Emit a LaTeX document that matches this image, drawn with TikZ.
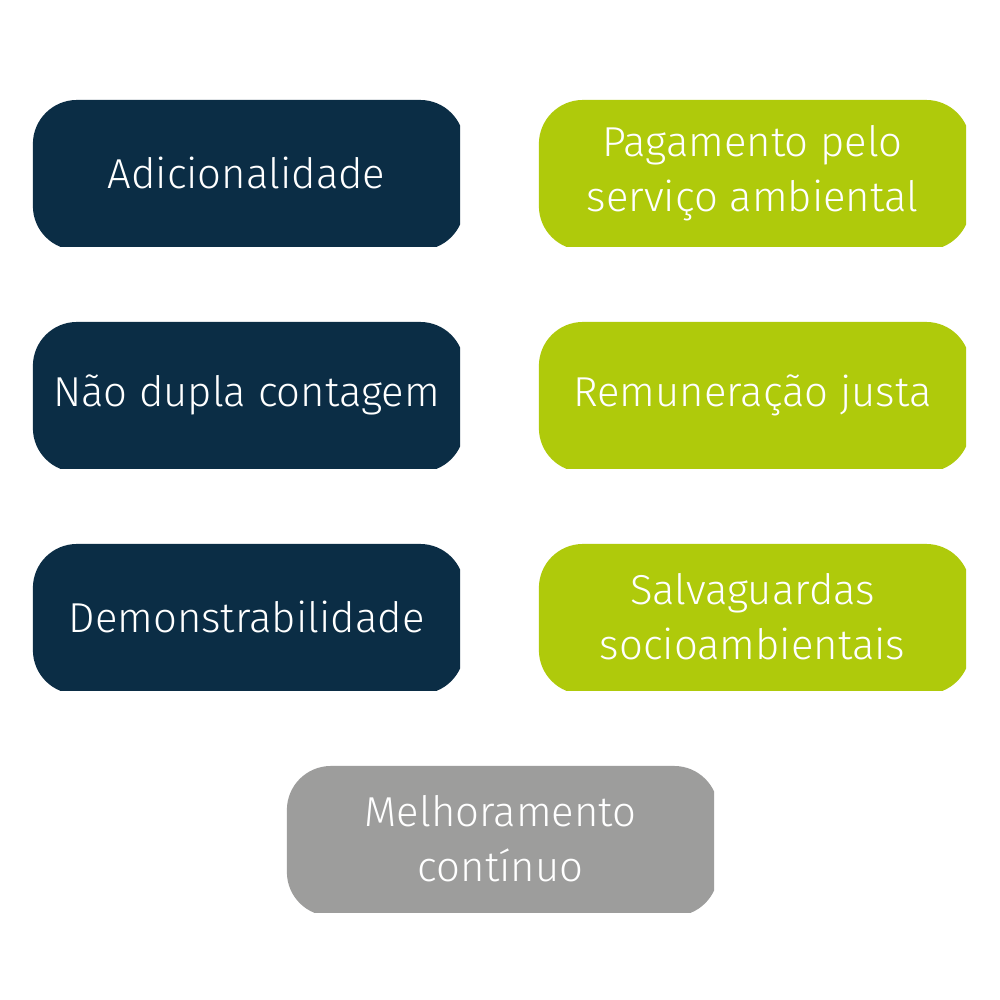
\documentclass[tikz,border=0pt]{standalone}
\usepackage{fontspec}
\setmainfont{Fira Sans Light}
\definecolor{navy}{HTML}{0B2D45}
\definecolor{lime}{HTML}{AFCA0B}
\definecolor{greyb}{HTML}{9D9D9C}
\begin{document}
\begin{tikzpicture}[x=0.01cm,y=-0.01cm,
  pill/.style={rectangle, minimum width=4.27cm, minimum height=1.46cm, inner sep=0pt,
    text=white, align=center, font=\fontsize{11.9}{15.6}\selectfont,
    path picture={\fill[#1, rounded corners=0.44cm] (path picture bounding box.north west) rectangle ([xshift=0.04cm,yshift=-0.04cm]path picture bounding box.south east);}}]
\useasboundingbox[fill=white] (0,0) rectangle (1000,1000);
\node[pill=navy] (a) at (246.5,173) {Adicionalidade};
\node[pill=navy] (b) at (246.5,395) {Não dupla contagem};
\node[pill=navy] (c) at (246.5,617) {Demonstrabilidade};
\node[pill=lime] (d) at (752.5,173) {Pagamento pelo\\serviço ambiental};
\node[pill=lime] (e) at (752.5,395) {Remuneração justa};
\node[pill=lime] (f) at (752.5,617) {Salvaguardas\\socioambientais};
\node[pill=greyb] (g) at (500.5,839) {Melhoramento\\contínuo};
\end{tikzpicture}
\end{document}
